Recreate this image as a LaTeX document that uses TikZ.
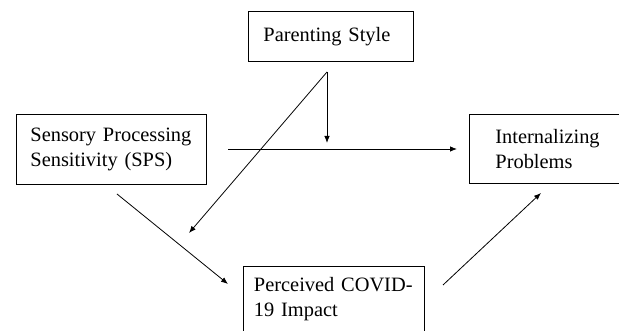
\documentclass[tikz,border=0pt]{standalone}
\usepackage{fontspec}
\setmainfont{Liberation Serif}
\usepackage{tikz}
\usetikzlibrary{arrows.meta}
\tikzset{box/.style={draw, rectangle, anchor=north west, align=left, line width=0.9pt, font=\fontsize{20.4}{25}\selectfont}}
\tikzset{a/.style={->, line width=0.8pt}}

\begin{document}
\begin{tikzpicture}[x=1pt, y=-1pt, >={Latex[length=7pt,width=5.5pt]}]
    \useasboundingbox (0,0) rectangle (619,331);
    \node[box, text width=135pt, inner xsep=15pt, minimum height=50pt] (PS) at (248,11) {Parenting Style};
    \node[box, text width=162pt, inner xsep=14pt, minimum height=70pt] (SPS) at (16,114) {Sensory Processing\\Sensitivity (SPS)};
    \node[box, text width=128pt, inner xsep=26pt, minimum height=69pt] (IP) at (469,114) {Internalizing\\Problems};
    \node[box, text width=160pt, inner xsep=10.5pt, minimum height=66pt] (COV) at (243,266) {Perceived COVID-\\19 Impact};
    % free arrow ends
    \coordinate (sps-out) at (117,194);
    \coordinate (cov-in) at (228,284);
    \coordinate (cov-out) at (443,285);
    \coordinate (ip-in) at (541,193);
    \coordinate (main-out) at (228,149);
    \coordinate (main-in) at (457,149);
    \coordinate (ps-out) at (327,72);
    \coordinate (mod) at (327,143);
    \coordinate (cov-mod) at (189,233);
    \draw[a] (main-out) -- (main-in);
    \draw[a] (ps-out) -- (mod);
    \draw[a] (ps-out) -- (cov-mod);
    \draw[a] (sps-out) -- (cov-in);
    \draw[a] (cov-out) -- (ip-in);
\end{tikzpicture}
\end{document}
